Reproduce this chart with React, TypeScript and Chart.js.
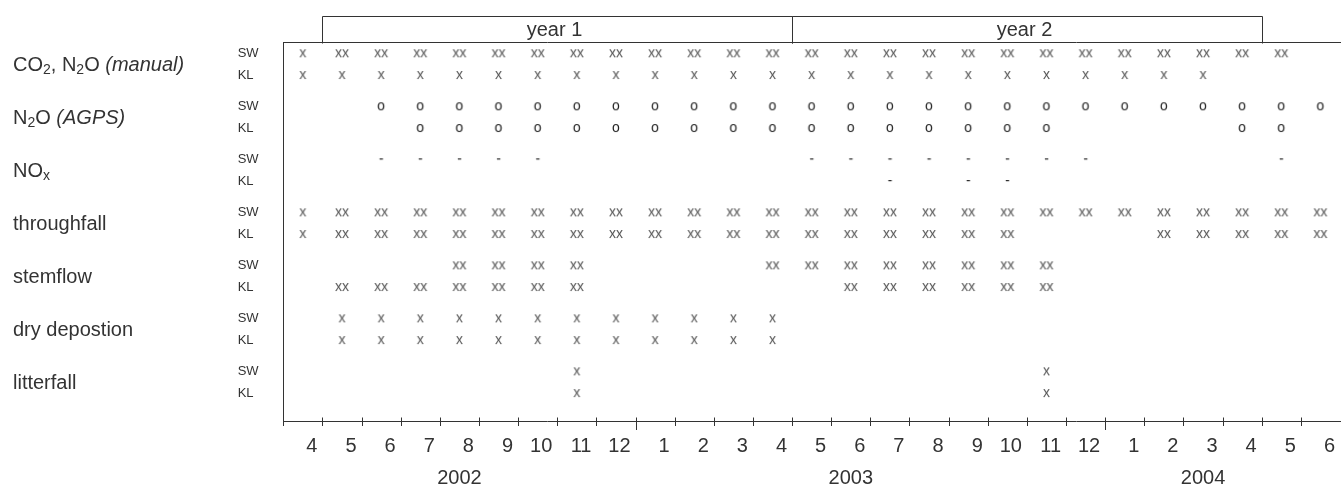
import React, { useEffect, useRef } from 'react';
import { Chart, registerables } from 'chart.js';

Chart.register(...registerables);

// ---------- data ----------
// months on the axis: Apr 2002 … Jun 2004
const monthLabels = ['4', '5', '6', '7', '8', '9', '10', '11', '12', '1', '2', '3', '4', '5', '6', '7', '8', '9', '10', '11', '12', '1', '2', '3', '4', '5', '6'];
const yearLabels = ['2002', '2003', '2004'];
const yearLabelAt = [4.5, 14.5, 23.5];
const periodLabels = ['year 1', 'year 2'];
const periodStart = [1, 13];
const periodEnd = [13, 25];
// "_" = subscript next char, "*" toggles italic
const categoryLabels = ['CO_2, N_2O *(manual)*', 'N_2O *(AGPS)*', 'NO_x', 'throughfall', 'stemflow', 'dry depostion', 'litterfall'];
const siteLabels = ['SW', 'KL'];

// sampling marks per month (27 entries, Apr 2002 … Jun 2004)
const co2ManualSW = ['x', 'xx', 'xx', 'xx', 'xx', 'xx', 'xx', 'xx', 'xx', 'xx', 'xx', 'xx', 'xx', 'xx', 'xx', 'xx', 'xx', 'xx', 'xx', 'xx', 'xx', 'xx', 'xx', 'xx', 'xx', 'xx', ''];
const co2ManualKL = ['x', 'x', 'x', 'x', 'x', 'x', 'x', 'x', 'x', 'x', 'x', 'x', 'x', 'x', 'x', 'x', 'x', 'x', 'x', 'x', 'x', 'x', 'x', 'x', '', '', ''];
const n2oAgpsSW = ['', '', 'o', 'o', 'o', 'o', 'o', 'o', 'o', 'o', 'o', 'o', 'o', 'o', 'o', 'o', 'o', 'o', 'o', 'o', 'o', 'o', 'o', 'o', 'o', 'o', 'o'];
const n2oAgpsKL = ['', '', '', 'o', 'o', 'o', 'o', 'o', 'o', 'o', 'o', 'o', 'o', 'o', 'o', 'o', 'o', 'o', 'o', 'o', '', '', '', '', 'o', 'o', ''];
const noxSW = ['', '', '-', '-', '-', '-', '-', '', '', '', '', '', '', '-', '-', '-', '-', '-', '-', '-', '-', '', '', '', '', '-', ''];
const noxKL = ['', '', '', '', '', '', '', '', '', '', '', '', '', '', '', '-', '', '-', '-', '', '', '', '', '', '', '', ''];
const throughfallSW = ['x', 'xx', 'xx', 'xx', 'xx', 'xx', 'xx', 'xx', 'xx', 'xx', 'xx', 'xx', 'xx', 'xx', 'xx', 'xx', 'xx', 'xx', 'xx', 'xx', 'xx', 'xx', 'xx', 'xx', 'xx', 'xx', 'xx'];
const throughfallKL = ['x', 'xx', 'xx', 'xx', 'xx', 'xx', 'xx', 'xx', 'xx', 'xx', 'xx', 'xx', 'xx', 'xx', 'xx', 'xx', 'xx', 'xx', 'xx', '', '', '', 'xx', 'xx', 'xx', 'xx', 'xx'];
const stemflowSW = ['', '', '', '', 'xx', 'xx', 'xx', 'xx', '', '', '', '', 'xx', 'xx', 'xx', 'xx', 'xx', 'xx', 'xx', 'xx', '', '', '', '', '', '', ''];
const stemflowKL = ['', 'xx', 'xx', 'xx', 'xx', 'xx', 'xx', 'xx', '', '', '', '', '', '', 'xx', 'xx', 'xx', 'xx', 'xx', 'xx', '', '', '', '', '', '', ''];
const dryDepositionSW = ['', 'x', 'x', 'x', 'x', 'x', 'x', 'x', 'x', 'x', 'x', 'x', 'x', '', '', '', '', '', '', '', '', '', '', '', '', '', ''];
const dryDepositionKL = ['', 'x', 'x', 'x', 'x', 'x', 'x', 'x', 'x', 'x', 'x', 'x', 'x', '', '', '', '', '', '', '', '', '', '', '', '', '', ''];
const litterfallSW = ['', '', '', '', '', '', '', 'x', '', '', '', '', '', '', '', '', '', '', '', 'x', '', '', '', '', '', '', ''];
const litterfallKL = ['', '', '', '', '', '', '', 'x', '', '', '', '', '', '', '', '', '', '', '', 'x', '', '', '', '', '', '', ''];

const rows = [
  [co2ManualSW, co2ManualKL],
  [n2oAgpsSW, n2oAgpsKL],
  [noxSW, noxKL],
  [throughfallSW, throughfallKL],
  [stemflowSW, stemflowKL],
  [dryDepositionSW, dryDepositionKL],
  [litterfallSW, litterfallKL],
];
const glyphTypes = ['x', 'xx', 'o', '-'];

// ---------- layout constants ----------
const FONT = '"Liberation Sans", Arial, Helvetica, sans-serif';
const TEXT = '#333';
const LINE = '#333';
const SITE_OFFSET = [0.2, 0.61];
const Y_MAX = 7.15;

function makeGlyph(text: string, color: string): HTMLCanvasElement {
  const c = document.createElement('canvas');
  let ctx = c.getContext('2d')!;
  const font = `14px ${FONT}`;
  ctx.font = font;
  const w = Math.ceil(ctx.measureText(text).width) + 2;
  c.width = w;
  c.height = 16;
  ctx = c.getContext('2d')!;
  ctx.font = font;
  ctx.fillStyle = color;
  ctx.textAlign = 'center';
  ctx.textBaseline = 'alphabetic';
  ctx.fillText(text, w / 2, 8 + 0.26 * 14);
  return c;
}

function drawRich(ctx: CanvasRenderingContext2D, text: string, x: number, y: number, size: number) {
  let italic = false;
  let cx = x;
  let buf = '';
  const flush = () => {
    if (!buf) return;
    ctx.font = `${italic ? 'italic ' : ''}${size}px ${FONT}`;
    ctx.fillText(buf, cx, y);
    cx += ctx.measureText(buf).width;
    buf = '';
  };
  for (let i = 0; i < text.length; i++) {
    const ch = text[i];
    if (ch === '*') { flush(); italic = !italic; continue; }
    if (ch === '_') {
      flush();
      const sc = text[++i];
      ctx.font = `${italic ? 'italic ' : ''}${Math.round(size * 0.7)}px ${FONT}`;
      ctx.fillText(sc, cx, y + size * 0.25);
      cx += ctx.measureText(sc).width;
      continue;
    }
    buf += ch;
  }
  flush();
}

const framePlugin = {
  id: 'frame',
  afterDraw(chart: any) {
    const ctx: CanvasRenderingContext2D = chart.ctx;
    const xs = chart.scales.x;
    const ys = chart.scales.y;
    const area = chart.chartArea;
    ctx.save();
    ctx.strokeStyle = LINE;
    ctx.lineWidth = 1;
    // tick marks on the month axis
    const axisY = Math.round(area.bottom) + 0.5;
    for (let v = 0; v < monthLabels.length; v++) {
      const px = Math.round(xs.getPixelForValue(v)) + 0.5;
      const big = v > 0 && monthLabels[v] === '1';
      ctx.beginPath();
      ctx.moveTo(px, axisY - 5);
      ctx.lineTo(px, axisY + (big ? 7.5 : 3.5));
      ctx.stroke();
    }
    // year boxes at the top
    const boxTop = Math.round(area.top - 27) + 0.5;
    const boxBottom = Math.round(area.top) + 0.5;
    ctx.fillStyle = TEXT;
    ctx.textAlign = 'center';
    ctx.textBaseline = 'middle';
    ctx.font = `20px ${FONT}`;
    for (let i = 0; i < periodLabels.length; i++) {
      const x0 = Math.round(xs.getPixelForValue(periodStart[i])) + 0.5;
      const x1 = Math.round(xs.getPixelForValue(periodEnd[i])) + 0.5;
      ctx.beginPath();
      ctx.moveTo(x0, boxBottom);
      ctx.lineTo(x0, boxTop);
      ctx.lineTo(x1, boxTop);
      ctx.lineTo(x1, boxBottom);
      ctx.stroke();
      ctx.fillText(periodLabels[i], (x0 + x1) / 2 - 3, (boxTop + boxBottom) / 2);
    }
    // category labels
    ctx.textAlign = 'left';
    ctx.textBaseline = 'middle';
    for (let g = 0; g < categoryLabels.length; g++) {
      const yc = ys.getPixelForValue(g + (SITE_OFFSET[0] + SITE_OFFSET[1]) / 2);
      drawRich(ctx, categoryLabels[g], 13, yc + 1, 20);
    }
    ctx.restore();
  },
};

export default function App() {
  const ref = useRef<HTMLCanvasElement | null>(null);

  useEffect(() => {
    if (!ref.current) return;
    const glyphImages: Record<string, HTMLCanvasElement> = {
      x: makeGlyph('x', '#555'),
      xx: makeGlyph('xx', '#555'),
      o: makeGlyph('o', '#222'),
      '-': makeGlyph('-', '#222'),
    };
    const datasets = glyphTypes.map((t) => {
      const pts: { x: number; y: number }[] = [];
      rows.forEach((pair, g) => {
        pair.forEach((row, s) => {
          row.forEach((m, u) => {
            if (m === t) pts.push({ x: u + 0.5, y: g + SITE_OFFSET[s] });
          });
        });
      });
      return {
        label: t,
        data: pts,
        xAxisID: 'x',
        yAxisID: 'y',
        pointStyle: glyphImages[t],
        pointRadius: 3,
        pointHoverRadius: 3,
        showLine: false,
      };
    });
    const rowTicks: { value: number }[] = [];
    rows.forEach((_p, g) => SITE_OFFSET.forEach((o) => rowTicks.push({ value: g + o })));

    const fontSpec = (size: number) => ({ family: FONT, size, lineHeight: 1 });

    const chart = new Chart(ref.current, {
      type: 'scatter',
      data: { datasets: datasets as any },
      options: {
        animation: false,
        responsive: false,
        events: [],
        layout: { padding: { left: 237.7, top: 42.7, right: 0, bottom: 0 } },
        plugins: { legend: { display: false }, tooltip: { enabled: false } },
        scales: {
          x: {
            type: 'linear',
            axis: 'x',
            position: 'bottom',
            weight: 0,
            min: 0,
            max: monthLabels.length,
            afterBuildTicks: (s: any) => {
              s.ticks = monthLabels.map((_m, i) => ({ value: i })).concat([{ value: monthLabels.length }]);
            },
            ticks: {
              autoSkip: false,
              maxRotation: 0,
              minRotation: 0,
              align: 'end',
              labelOffset: -5,
              padding: 15,
              color: TEXT,
              font: fontSpec(20),
              callback: (v: any) => (v >= 1 ? monthLabels[v - 1] : ''),
            },
            grid: { display: true, drawOnChartArea: false, drawTicks: false },
            border: { display: true, color: LINE, width: 1 },
            afterFit: (s: any) => {
              s.height = 34.5;
              s.paddingLeft = 0;
              s.paddingRight = 0;
            },
          } as any,
          xYear: {
            type: 'linear',
            axis: 'x',
            position: 'bottom',
            weight: 1,
            min: 0,
            max: monthLabels.length,
            afterBuildTicks: (s: any) => {
              s.ticks = yearLabelAt.map((v) => ({ value: v }));
            },
            ticks: {
              autoSkip: false,
              maxRotation: 0,
              minRotation: 0,
              padding: 12.6,
              color: TEXT,
              font: fontSpec(20),
              callback: (_v: any, i: number) => yearLabels[i],
            },
            grid: { display: false, drawTicks: false },
            border: { display: false },
            afterFit: (s: any) => {
              s.height = 31.8;
              s.paddingLeft = 0;
              s.paddingRight = 0;
            },
          } as any,
          xTop: {
            type: 'linear',
            axis: 'x',
            position: 'top',
            min: 0,
            max: monthLabels.length,
            ticks: { display: false },
            grid: { display: true, drawOnChartArea: false, drawTicks: false },
            border: { display: true, color: LINE, width: 1 },
            afterFit: (s: any) => {
              s.height = 0;
              s.paddingLeft = 0;
              s.paddingRight = 0;
            },
          } as any,
          y: {
            type: 'linear',
            axis: 'y',
            position: 'left',
            reverse: true,
            min: 0,
            max: Y_MAX,
            afterBuildTicks: (s: any) => {
              s.ticks = rowTicks.map((t) => ({ ...t }));
            },
            ticks: {
              autoSkip: false,
              crossAlign: 'far',
              padding: 0,
              color: TEXT,
              font: { family: FONT, size: 13 },
              callback: (_v: any, i: number) => siteLabels[i % 2],
            },
            grid: { display: true, drawOnChartArea: false, drawTicks: false },
            border: { display: true, color: LINE, width: 1 },
            afterFit: (s: any) => {
              s.width = 45.6;
              s.paddingTop = 0;
              s.paddingBottom = 0;
            },
          } as any,
        },
      },
      plugins: [framePlugin],
    });
    return () => chart.destroy();
  }, []);

  return (
    <div style={{ position: 'fixed', left: 0, top: 0, width: 1344, height: 488, background: '#fff' }}>
      <canvas ref={ref} width={1344} height={488} style={{ display: 'block' }} />
    </div>
  );
}
